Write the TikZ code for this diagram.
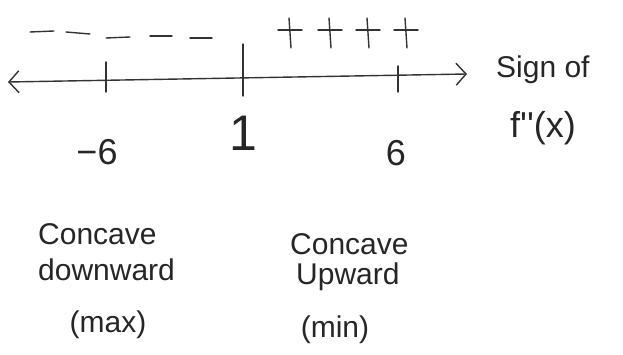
\documentclass[tikz,border=0pt]{standalone}
\usepackage{fontspec}
\setmainfont{Liberation Sans}
\usetikzlibrary{arrows.meta}
\tikzset{
  hand/.style={line width=1.4pt, draw=black!80, line cap=round},
  lbl/.style={font=\fontsize{30}{32}\selectfont, text=black!85, inner sep=0pt},
  num/.style={font=\fontsize{36}{36}\selectfont, text=black!85, inner sep=0pt},
}
\begin{document}
\begin{tikzpicture}[x=1pt,y=-1pt]
\useasboundingbox (0,0) rectangle (623,355);
% number line
\coordinate (L) at (8,82);
\coordinate (R) at (467,74);
\draw[hand, {Straight Barb[length=10pt,width=22pt]}-{Straight Barb[length=10pt,width=22pt]}] (L) -- (R);
% ticks
\coordinate (t1a) at (106,62); \coordinate (t1b) at (106,92);
\coordinate (t2a) at (243,44); \coordinate (t2b) at (243,96);
\coordinate (t3a) at (398,66); \coordinate (t3b) at (398,92);
\draw[hand] (t1a) -- (t1b);
\draw[hand] (t2a) -- (t2b);
\draw[hand] (t3a) -- (t3b);
% signs
\coordinate (m1a) at (30,32); \coordinate (m1b) at (54,31);
\coordinate (m2a) at (66,32); \coordinate (m2b) at (90,34);
\coordinate (m3a) at (106,38); \coordinate (m3b) at (130,37);
\coordinate (m4a) at (150,36); \coordinate (m4b) at (172,36);
\coordinate (m5a) at (190,38); \coordinate (m5b) at (212,38);
\foreach \i in {1,...,5} \draw[hand] (m\i a) -- (m\i b);
\foreach \x in {290,330,368,406} {
  \draw[hand] (\x-12,30) -- (\x+12,30);
  \draw[hand] (\x-1,18) -- (\x+1,48);
}
% tick labels
\node[num] (n1) at (97,152) {−6};
\node[font=\fontsize{50}{50}\selectfont, inner sep=0pt, text=black!85] (n2) at (243,133) {1};
\node[num] (n3) at (396,153) {6};
% sign of
\node[lbl, anchor=west] (s1) at (496,70) {Sign of};
\node[font=\fontsize{36}{36}\selectfont, inner sep=0pt, text=black!85, anchor=west] (s2) at (510,128) {f\textquotesingle\textquotesingle(x)};
% concavity
\node[lbl, anchor=west] (c1) at (38,234) {Concave};
\node[lbl, anchor=west] (c2) at (38,270) {downward};
\node[lbl] (c3) at (108,325) {(max)};
\node[lbl, anchor=west] (c4) at (290,244) {Concave};
\node[lbl, anchor=west] (c5) at (296,277) {Upward};
\node[lbl] (c6) at (335,330) {(min)};
\end{tikzpicture}
\end{document}
